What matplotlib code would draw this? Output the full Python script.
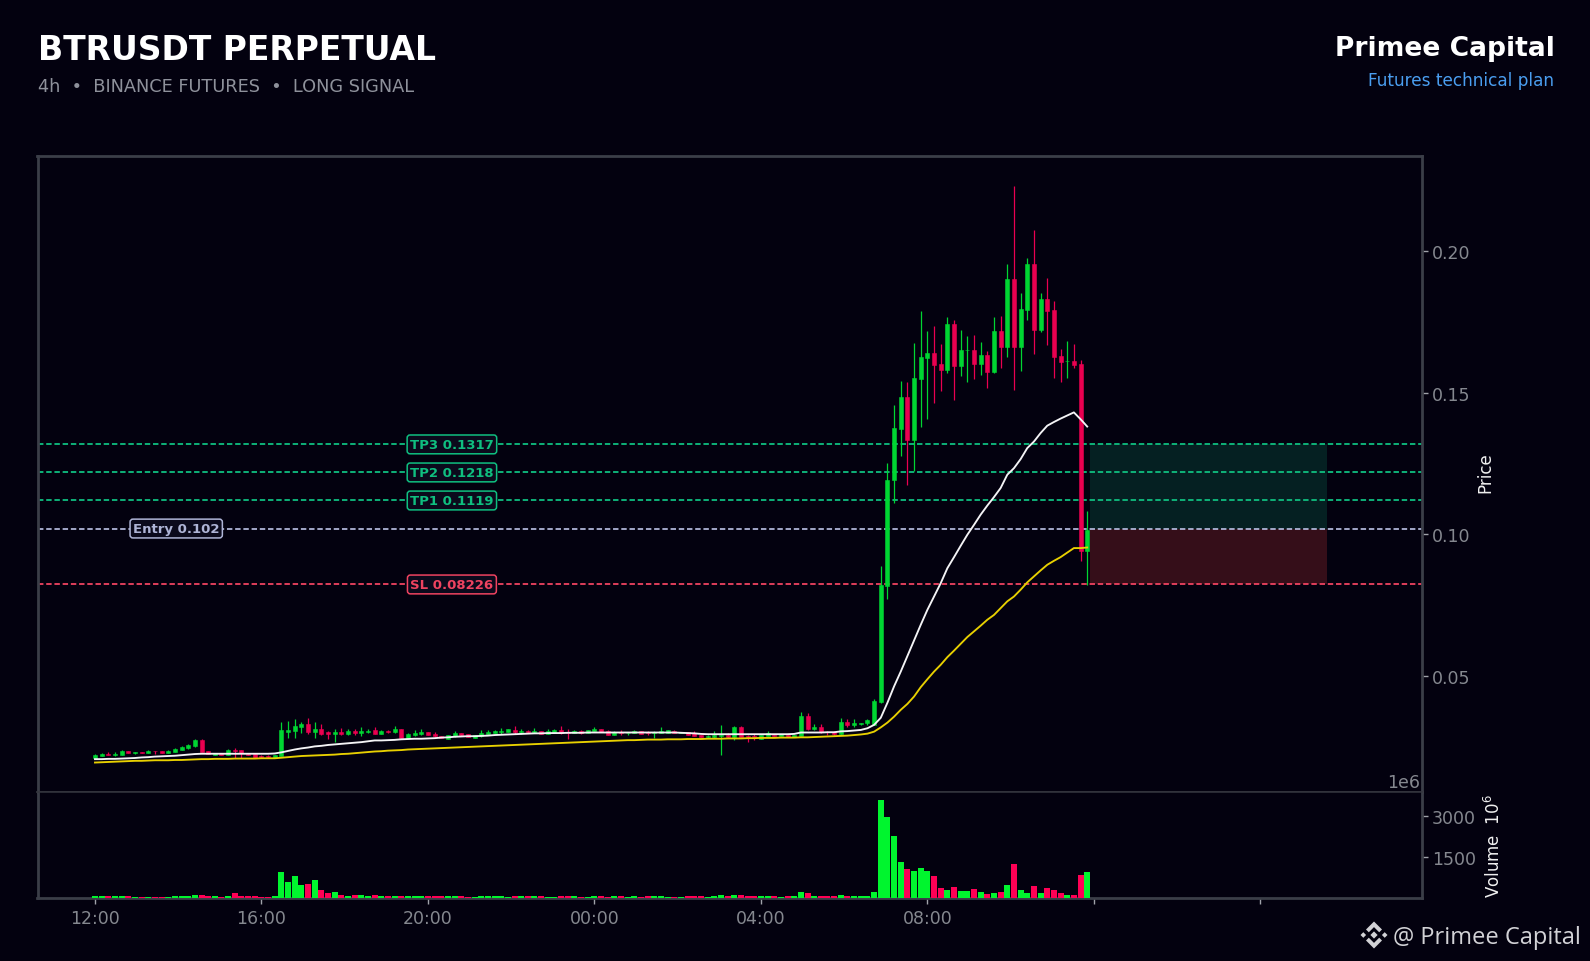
import matplotlib
matplotlib.use("Agg")
import matplotlib.pyplot as plt
from matplotlib.patches import Polygon

opens = [.0210,.0217,.0225,.0221,.0221,.0235,.0229,.0232,.0228,.0235,
 .0235,.0228,.0232,.0240,.0246,.0254,.0274,.0235,.0221,.0227,
 .0221,.0239,.0239,.0225,.0225,.0217,.0217,.0210,.0217,.0302,
 .0306,.0320,.0331,.0302,.0313,.0302,.0295,.0302,.0295,.0306,
 .0298,.0301,.0309,.0295,.0307,.0302,.0313,.0282,.0292,.0295,
 .0302,.0295,.0288,.0278,.0288,.0299,.0295,.0282,.0288,.0295,
 .0299,.0302,.0302,.0309,.0302,.0305,.0302,.0306,.0295,.0302,
 .0309,.0302,.0299,.0306,.0299,.0306,.0313,.0306,.0292,.0302,
 .0297,.0297,.0306,.0302,.0300,.0298,.0299,.0306,.0299,.0302,
 .0299,.0292,.0285,.0283,.0289,.0292,.0285,.0320,.0288,.0288,
 .0278,.0288,.0292,.0288,.0292,.0283,.0288,.0359,.0313,.0320,
 .0302,.0302,.0295,.0338,.0327,.0331,.0335,.0327,.0406,.0816,
 .1190,.1372,.1485,.1333,.1549,.1623,.1640,.1602,.1581,.1743,
 .1595,.1649,.1651,.1602,.1634,.1574,.1718,.1662,.1902,.1662,
 .1792,.1955,.1722,.1831,.1792,.1630,.1610,.1612,.1602,.0942]
highs = [.0224,.0227,.0231,.0231,.0237,.0235,.0232,.0232,.0237,.0235,
 .0235,.0237,.0245,.0252,.0259,.0276,.0276,.0235,.0227,.0227,
 .0241,.0246,.0239,.0225,.0225,.0219,.0220,.0221,.0338,.0340,
 .0348,.0338,.0352,.0338,.0331,.0306,.0312,.0316,.0312,.0313,
 .0320,.0313,.0320,.0309,.0309,.0323,.0313,.0297,.0308,.0312,
 .0302,.0302,.0288,.0292,.0306,.0299,.0295,.0292,.0309,.0309,
 .0309,.0316,.0313,.0323,.0313,.0309,.0316,.0306,.0312,.0313,
 .0323,.0313,.0308,.0308,.0309,.0320,.0313,.0309,.0306,.0309,
 .0300,.0309,.0307,.0307,.0306,.0318,.0309,.0309,.0302,.0302,
 .0304,.0292,.0292,.0306,.0327,.0298,.0323,.0323,.0292,.0295,
 .0292,.0306,.0292,.0295,.0292,.0292,.0373,.0369,.0331,.0331,
 .0306,.0306,.0352,.0348,.0348,.0334,.0349,.0419,.0886,.1251,
 .1457,.1542,.1537,.1675,.1788,.1717,.1736,.1672,.1767,.1757,
 .1722,.1701,.1704,.1678,.1646,.1767,.1771,.1954,.2230,.1851,
 .1975,.2075,.1851,.1905,.1824,.1655,.1682,.1672,.1614,.1083]
lows = [.0209,.0216,.0219,.0218,.0220,.0226,.0224,.0226,.0227,.0225,
 .0228,.0227,.0232,.0239,.0243,.0250,.0232,.0224,.0221,.0222,
 .0221,.0210,.0210,.0219,.0210,.0210,.0210,.0210,.0217,.0282,
 .0279,.0299,.0295,.0279,.0292,.0278,.0265,.0292,.0292,.0292,
 .0289,.0297,.0294,.0294,.0299,.0299,.0282,.0278,.0288,.0292,
 .0292,.0284,.0280,.0278,.0284,.0288,.0285,.0282,.0284,.0293,
 .0297,.0295,.0302,.0295,.0294,.0297,.0298,.0295,.0294,.0301,
 .0295,.0278,.0298,.0295,.0299,.0305,.0302,.0291,.0291,.0292,
 .0292,.0297,.0293,.0292,.0282,.0298,.0299,.0297,.0299,.0292,
 .0286,.0283,.0281,.0280,.0219,.0282,.0274,.0283,.0267,.0272,
 .0278,.0288,.0288,.0288,.0285,.0283,.0288,.0309,.0309,.0298,
 .0292,.0292,.0292,.0320,.0320,.0325,.0325,.0325,.0404,.0771,
 .1110,.1275,.1172,.1224,.1378,.1406,.1463,.1505,.1569,.1472,
 .1557,.1536,.1549,.1561,.1517,.1570,.1588,.1627,.1508,.1575,
 .1757,.1637,.1715,.1669,.1552,.1538,.1552,.1588,.0906,.0820]
closes = [.0221,.0225,.0221,.0225,.0235,.0228,.0232,.0229,.0235,.0233,
 .0228,.0235,.0242,.0249,.0256,.0274,.0232,.0224,.0227,.0222,
 .0239,.0234,.0228,.0221,.0210,.0214,.0214,.0221,.0309,.0309,
 .0323,.0331,.0302,.0313,.0295,.0295,.0302,.0295,.0306,.0299,
 .0306,.0307,.0295,.0306,.0302,.0313,.0282,.0295,.0299,.0302,
 .0292,.0286,.0280,.0292,.0299,.0292,.0285,.0292,.0299,.0302,
 .0306,.0305,.0313,.0302,.0305,.0302,.0306,.0295,.0306,.0309,
 .0299,.0300,.0306,.0299,.0309,.0313,.0302,.0292,.0302,.0300,
 .0299,.0306,.0295,.0300,.0302,.0306,.0309,.0299,.0302,.0292,
 .0288,.0283,.0288,.0292,.0292,.0285,.0320,.0285,.0285,.0285,
 .0292,.0298,.0288,.0295,.0285,.0292,.0359,.0313,.0320,.0302,
 .0301,.0295,.0338,.0327,.0334,.0334,.0345,.0412,.0821,.1192,
 .1375,.1485,.1333,.1552,.1626,.1640,.1598,.1581,.1743,.1595,
 .1651,.1650,.1602,.1634,.1574,.1718,.1662,.1902,.1662,.1796,
 .1955,.1722,.1831,.1789,.1627,.1609,.1611,.1598,.0942,.1016]
volumes_m = [73,73,73,73,73,73,15,15,15,15,
 15,15,73,73,73,110,110,73,73,15,
 73,183,73,73,73,15,15,73,952,586,
 805,476,512,659,293,183,220,110,73,110,
 110,73,110,73,73,73,73,73,73,73,
 73,73,73,73,73,73,15,15,73,73,
 73,73,15,73,73,73,73,73,15,15,
 73,73,73,15,15,73,73,15,73,73,
 15,73,15,73,73,73,15,15,15,73,
 73,73,15,73,110,73,110,110,73,73,
 73,73,73,15,73,73,220,183,73,73,
 73,73,110,73,73,73,73,220,3587,2965,
 2269,1318,1061,988,1098,988,805,366,293,403,
 256,256,329,220,146,183,220,476,1244,293,
 183,439,183,366,293,183,110,110,842,952]
ema_fast = [.0206,.0206,.0207,.0207,.0208,.0209,.0210,.0212,.0213,.0215,
 .0216,.0217,.0218,.0220,.0222,.0224,.0225,.0225,.0225,.0225,
 .0225,.0225,.0225,.0225,.0225,.0225,.0225,.0226,.0230,.0235,
 .0240,.0244,.0247,.0251,.0253,.0256,.0258,.0260,.0262,.0264,
 .0266,.0269,.0272,.0272,.0273,.0274,.0276,.0277,.0278,.0278,
 .0279,.0280,.0282,.0283,.0285,.0286,.0287,.0287,.0288,.0289,
 .0291,.0292,.0293,.0294,.0295,.0296,.0297,.0297,.0298,.0298,
 .0298,.0299,.0299,.0299,.0300,.0300,.0300,.0300,.0300,.0300,
 .0300,.0300,.0300,.0300,.0300,.0300,.0300,.0300,.0299,.0298,
 .0297,.0295,.0294,.0294,.0294,.0294,.0294,.0294,.0294,.0294,
 .0294,.0294,.0294,.0294,.0294,.0295,.0300,.0300,.0300,.0300,
 .0301,.0301,.0304,.0305,.0307,.0309,.0315,.0327,.0352,.0405,
 .0463,.0515,.0570,.0625,.0680,.0733,.0780,.0827,.0880,.0919,
 .0959,.0998,.1033,.1069,.1101,.1131,.1163,.1210,.1233,.1265,
 .1304,.1327,.1357,.1383,.1396,.1408,.1419,.1430,.1406,.1380]
ema_slow = [.0194,.0195,.0196,.0197,.0198,.0199,.0200,.0200,.0201,.0202,
 .0202,.0202,.0203,.0203,.0204,.0205,.0206,.0206,.0207,.0207,
 .0207,.0208,.0208,.0208,.0208,.0209,.0209,.0209,.0211,.0213,
 .0215,.0217,.0218,.0219,.0220,.0221,.0222,.0224,.0225,.0227,
 .0229,.0231,.0233,.0234,.0236,.0237,.0238,.0240,.0241,.0242,
 .0243,.0244,.0245,.0246,.0247,.0248,.0249,.0250,.0251,.0252,
 .0253,.0254,.0255,.0256,.0257,.0258,.0259,.0260,.0261,.0262,
 .0263,.0264,.0265,.0266,.0267,.0268,.0269,.0270,.0271,.0272,
 .0273,.0273,.0274,.0275,.0275,.0275,.0276,.0276,.0276,.0277,
 .0277,.0277,.0278,.0278,.0278,.0279,.0279,.0279,.0280,.0280,
 .0281,.0281,.0281,.0282,.0282,.0282,.0283,.0283,.0284,.0285,
 .0286,.0287,.0288,.0289,.0291,.0293,.0296,.0303,.0318,.0335,
 .0356,.0380,.0401,.0427,.0460,.0488,.0515,.0539,.0566,.0589,
 .0613,.0637,.0657,.0677,.0698,.0715,.0739,.0763,.0780,.0804,
 .0830,.0851,.0872,.0892,.0906,.0919,.0935,.0951,.0951,.0953]

level_labels = ["TP3 0.1317", "TP2 0.1218", "TP1 0.1119", "Entry 0.102", "SL 0.08226"]
level_values = [0.1317, 0.1218, 0.1119, 0.102, 0.08226]
level_colors = ["#0FBF80", "#0FBF80", "#0FBF80", "#AEB4D6", "#EF4360"]
level_label_x = [53.6, 53.6, 53.6, 12.2, 53.6]

x_tick_pos = [0, 25, 50, 75, 100, 125, 150, 175]
x_tick_labels = ["12:00", "16:00", "20:00", "00:00", "04:00", "08:00", "", ""]
price_ticks = [0.05, 0.10, 0.15, 0.20]
price_tick_labels = ["0.05", "0.10", "0.15", "0.20"]
volume_ticks = [1500, 3000]
zone_x = [149.4, 185.0]

BG = "#03010F"
UP, DOWN = "#00D632", "#EA0050"
VUP, VDOWN = "#00F52E", "#FF0055"
GRID = "#3B3E48"
TICK = "#85888F"
TICKMARK = "#A0A3AA"
XMIN, XMAX = -8.63, 199.2

W, H = 1590, 962
fig = plt.figure(figsize=(W / 100, H / 100), dpi=100, facecolor=BG)

L, R, T, M, B = 37.5, 1421.5, 157, 793, 898.5
ax = fig.add_axes([L / W, 1 - M / H, (R - L) / W, (M - T) / H], facecolor=BG)
axv = fig.add_axes([L / W, 1 - B / H, (R - L) / W, (B - M) / H], facecolor=BG, sharex=ax)

idx = list(range(len(opens)))
colors = [UP if c >= o else DOWN for o, c in zip(opens, closes)]
vcolors = [VUP if c >= o else VDOWN for o, c in zip(opens, closes)]

ax.vlines(idx, lows, highs, colors=colors, linewidth=0.9, zorder=3)
ax.bar(idx, [abs(c - o) for o, c in zip(opens, closes)],
       bottom=[min(o, c) for o, c in zip(opens, closes)],
       width=0.6, color=colors, edgecolor=colors, linewidth=0.4, zorder=3)
ax.plot(idx, ema_fast, color="#F4F4F6", lw=1.35, zorder=4)
ax.plot(idx, ema_slow, color="#E8D000", lw=1.35, zorder=4)

span = XMAX - XMIN
zx0, zx1 = (zone_x[0] - XMIN) / span, (zone_x[1] - XMIN) / span
ax.axhspan(level_values[3], level_values[0], xmin=zx0, xmax=zx1,
           facecolor="#10B981", alpha=0.17, linewidth=0, zorder=1)
ax.axhspan(level_values[4], level_values[3], xmin=zx0, xmax=zx1,
           facecolor="#F04040", alpha=0.21, linewidth=0, zorder=1)

for lab, val, col, lx in zip(level_labels, level_values, level_colors, level_label_x):
    ax.axhline(val, color=col, lw=1.3, ls=(0, (3.0, 1.55)), zorder=2)
    ax.text(lx, val, lab, color=col, fontsize=9.5, fontweight="bold", ha="center", va="center", zorder=6,
            bbox=dict(boxstyle="round,pad=0.22", facecolor="#0B0A1C", edgecolor=col, linewidth=1.1))

ax.set_xlim(XMIN, XMAX)
ax.set_ylim(0.0090, 0.2335)
ax.yaxis.tick_right()
ax.yaxis.set_label_position("right")
ax.set_yticks(price_ticks)
ax.set_yticklabels(price_tick_labels)
ax.tick_params(axis="y", labelcolor=TICK, color=TICKMARK, labelsize=12.5, length=4, width=1, pad=3.5)
ax.tick_params(axis="x", bottom=False, labelbottom=False)
ax.set_ylabel("Price", color="#F0F0F0", fontsize=12, labelpad=4.2, y=0.503)

axv.bar(idx, volumes_m, width=0.9, color=vcolors, linewidth=0, zorder=3)
axv.set_ylim(0, 3878)
axv.yaxis.tick_right()
axv.yaxis.set_label_position("right")
axv.set_yticks(volume_ticks)
axv.set_yticklabels(["1500", "3000"])
axv.tick_params(axis="y", labelcolor=TICK, color=TICKMARK, labelsize=12.5, length=4, width=1, pad=3.5)
axv.set_xticks(x_tick_pos)
axv.set_xticklabels(x_tick_labels)
axv.tick_params(axis="x", labelcolor=TICK, color=TICKMARK, labelsize=12.5, length=4, width=1, pad=4.5)
axv.set_ylabel("Volume  $10^{6}$", color="#F0F0F0", fontsize=12, labelpad=5.5)
axv.text(0.999, 1.012, "1e6", transform=axv.transAxes, ha="right", va="bottom", color=TICK, fontsize=12.5)

for a in (ax, axv):
    for s in a.spines.values():
        s.set_color(GRID)
        s.set_linewidth(2.0)
ax.spines["bottom"].set_linewidth(1.1)
axv.spines["top"].set_linewidth(1.1)
ax.spines["bottom"].set_color("#34363E")
axv.spines["top"].set_color("#34363E")

fig.text(38.5 / W, 1 - 60.5 / H, "BTRUSDT PERPETUAL", color="white", fontsize=23.75, fontweight="bold", ha="left", va="baseline")
fig.text(38.5 / W, 1 - 92.5 / H, "4h  \u2022  BINANCE FUTURES  \u2022  LONG SIGNAL", color="#8E919B", fontsize=12.8, ha="left", va="baseline")
fig.text(1554.5 / W, 1 - 56.5 / H, "Primee Capital", color="white", fontsize=19.1, fontweight="bold", ha="right", va="baseline")
fig.text(1554.5 / W, 1 - 86 / H, "Futures technical plan", color="#4A9EF0", fontsize=12.2, ha="right", va="baseline")
fig.text(1581 / W, 1 - 944 / H, "@ Primee Capital", color="#D2D2D6", fontsize=17, family="Open Sans", ha="right", va="baseline")

# watermark logo
cx, cy = 1374, 936
def px(pts):
    return [((cx + a) / W, 1 - (cy + b) / H) for a, b in pts]
logo = "#D2D2D6"
shapes = [
    [(0, -3.6), (3.6, 0), (0, 3.6), (-3.6, 0)],
    [(-13.5, 0), (-10.7, -2.8), (-7.9, 0), (-10.7, 2.8)],
    [(13.5, 0), (10.7, -2.8), (7.9, 0), (10.7, 2.8)],
    [(0, -13.5), (8, -5.5), (5.2, -2.7), (0, -7.9), (-5.2, -2.7), (-8, -5.5)],
    [(0, 13.5), (8, 5.5), (5.2, 2.7), (0, 7.9), (-5.2, 2.7), (-8, 5.5)],
]
for s in shapes:
    fig.add_artist(Polygon(px(s), closed=True, transform=fig.transFigure, facecolor=logo, edgecolor="none"))

fig.savefig("out.png", dpi=100, facecolor=BG)
